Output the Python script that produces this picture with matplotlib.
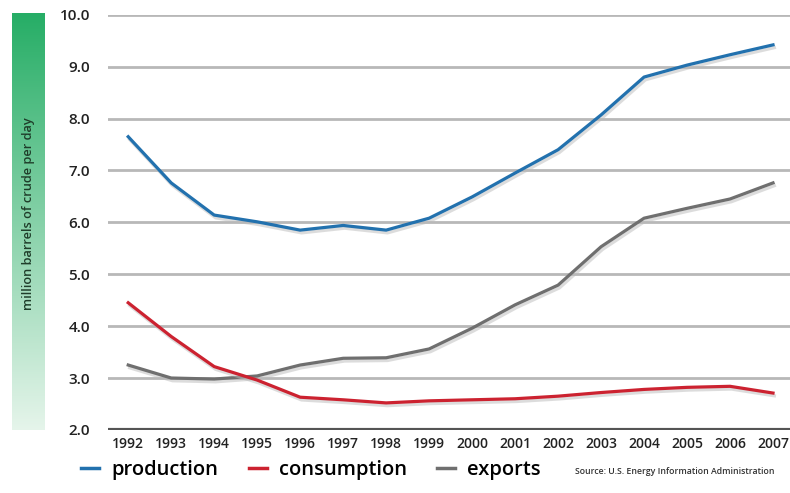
import matplotlib.pyplot as plt
import matplotlib.patheffects as pe
import numpy as np

plt.rcParams['font.family'] = ['Open Sans', 'DejaVu Sans']

years = list(range(1992, 2008))
production = [7.65, 6.76, 6.14, 6.01, 5.85, 5.94, 5.85, 6.08, 6.49, 6.95,
              7.40, 8.07, 8.80, 9.03, 9.23, 9.42]
consumption = [4.45, 3.80, 3.22, 2.96, 2.63, 2.58, 2.52, 2.56, 2.58, 2.60,
               2.65, 2.72, 2.78, 2.82, 2.84, 2.71]
exports = [3.25, 3.00, 2.98, 3.04, 3.25, 3.38, 3.39, 3.56, 3.96, 4.41,
           4.79, 5.53, 6.08, 6.27, 6.45, 6.76]
yticks = [2.0, 3.0, 4.0, 5.0, 6.0, 7.0, 8.0, 9.0, 10.0]

fig = plt.figure(figsize=(7.9, 4.93), dpi=100)

# green gradient bar carrying the unit label
bar = fig.add_axes([0.015, 0.128, 0.041, 0.845])
grad = np.linspace(0, 1, 256).reshape(-1, 1)
top = np.array([0.15, 0.68, 0.40])
bot = np.array([0.90, 0.96, 0.92])
img = top + (bot - top) * grad[..., None] ** 1.0
bar.imshow(img.reshape(256, 1, 3), aspect='auto', extent=[0, 1, 0, 1])
bar.axis('off')
bar.text(0.5, 0.52, 'million barrels of crude per day', rotation=90,
         ha='center', va='center', fontsize=9.2, color='#1f3d2a',
         fontweight='semibold', transform=bar.transAxes)

ax = fig.add_axes([0.137, 0.128, 0.863, 0.842])
ax.set_xlim(1991.535, 2007.395)
ax.set_ylim(2.0, 10.0)

for v in yticks[1:]:
    ax.axhline(v, color='#b8b8b8', lw=2.0, zorder=1)
ax.axhline(2.0, color='#555555', lw=3.0, zorder=1)

shadow = [pe.SimpleLineShadow(offset=(1, -2), shadow_color='#bbbbbb', alpha=0.5),
          pe.Normal()]
ax.plot(years, exports, color='#6f6f6f', lw=2.3, path_effects=shadow, zorder=3,
        label='exports')
ax.plot(years, consumption, color='#cc2230', lw=2.3, path_effects=shadow, zorder=3,
        label='consumption')
ax.plot(years, production, color='#2271ae', lw=2.3, path_effects=shadow, zorder=3,
        label='production')

for s in ax.spines.values():
    s.set_visible(False)
ax.set_xticks(years)
ax.set_xticklabels([str(y) for y in years], fontsize=10, fontweight='semibold',
                   color='#222222')
ax.set_yticks(yticks)
ax.set_yticklabels(['%.1f' % v for v in yticks], fontsize=11,
                   fontweight='semibold', color='#222222')
ax.tick_params(axis='both', length=0)
ax.tick_params(axis='y', pad=13)
ax.tick_params(axis='x', pad=5)

h, l = ax.get_legend_handles_labels()
order = [2, 1, 0]
leg = fig.legend([h[i] for i in order], [l[i] for i in order], ncol=3,
                 loc='center left', bbox_to_anchor=(0.080, 0.046), frameon=False,
                 handlelength=0.9, handletextpad=0.6, columnspacing=1.5,
                 prop={'size': 14.5, 'weight': 'semibold'})
for line in leg.get_lines():
    line.set_linewidth(2.5)
    line.set_path_effects([])

fig.text(0.728, 0.043, 'Source: U.S. Energy Information Administration',
         fontsize=6.3, fontweight='semibold', color='#333333', va='center')

fig.savefig('out.png', dpi=100)
